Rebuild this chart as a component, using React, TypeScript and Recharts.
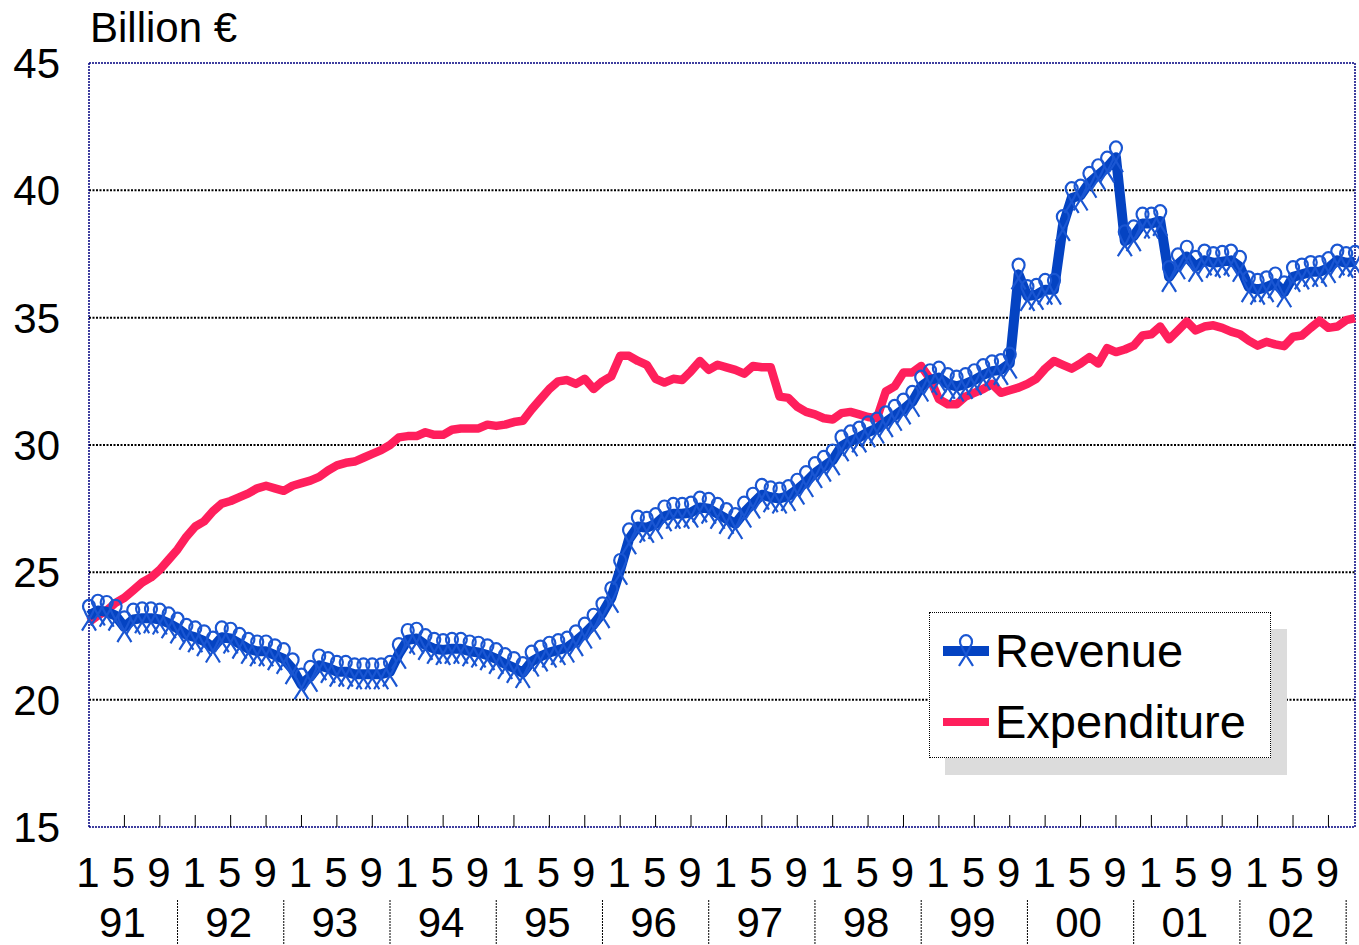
import React from "react";
import {
  LineChart,
  Line,
  XAxis,
  YAxis,
  CartesianGrid,
  ReferenceLine,
  Legend,
} from "recharts";

const YEARS = ["91", "92", "93", "94", "95", "96", "97", "98", "99", "00", "01", "02"];
const MONTH_LABELS = ["1", "5", "9"];
const Y_TICKS = [15, 20, 25, 30, 35, 40, 45];

// monthly values, Jan 1991 .. Dec 2002 (billion €)
const REVENUE = [
  23.3, 23.5, 23.45, 23.3, 22.85, 23.15, 23.2, 23.2, 23.15, 23.0, 22.8, 22.55,
  22.45, 22.3, 22.05, 22.45, 22.4, 22.2, 22.0, 21.9, 21.9, 21.75, 21.6, 21.2,
  20.6, 20.9, 21.35, 21.25, 21.1, 21.1, 21.0, 21.0, 21.0, 21.0, 21.1, 21.8,
  22.35, 22.4, 22.15, 22.0, 21.95, 22.0, 22.0, 21.9, 21.85, 21.75, 21.6, 21.4,
  21.25, 21.05, 21.5, 21.7, 21.85, 21.95, 22.05, 22.3, 22.6, 22.95, 23.4, 24.0,
  25.1, 26.3, 26.8, 26.75, 26.9, 27.2, 27.3, 27.3, 27.35, 27.55, 27.5, 27.3,
  27.1, 26.9, 27.35, 27.7, 28.05, 27.95, 27.9, 28.0, 28.25, 28.55, 28.9, 29.15,
  29.4, 29.95, 30.15, 30.3, 30.5, 30.65, 30.9, 31.15, 31.4, 31.7, 32.3, 32.55,
  32.65, 32.4, 32.3, 32.4, 32.55, 32.75, 32.9, 32.95, 33.2, 36.7, 35.85, 35.9,
  36.1, 36.1, 38.6, 39.7, 39.8, 40.3, 40.6, 40.9, 41.3, 38.0, 38.2, 38.7,
  38.7, 38.8, 36.6, 37.1, 37.4, 37.0, 37.25, 37.15, 37.2, 37.25, 37.0, 36.2,
  36.1, 36.2, 36.35, 36.0, 36.6, 36.7, 36.8, 36.8, 36.95, 37.25, 37.15, 37.2,
];

const EXPENDITURE = [
  23.05, 23.3, 23.5, 23.8, 24.0, 24.3, 24.6, 24.8, 25.1, 25.5, 25.9, 26.4,
  26.8, 27.0, 27.4, 27.7, 27.8, 27.95, 28.1, 28.3, 28.4, 28.3, 28.2, 28.4,
  28.5, 28.6, 28.75, 29.0, 29.2, 29.3, 29.35, 29.5, 29.65, 29.8, 30.0, 30.3,
  30.35, 30.35, 30.5, 30.4, 30.4, 30.6, 30.65, 30.65, 30.65, 30.8, 30.75, 30.8,
  30.9, 30.95, 31.4, 31.8, 32.2, 32.5, 32.55, 32.4, 32.6, 32.2, 32.5, 32.7,
  33.5, 33.5, 33.3, 33.15, 32.6, 32.45, 32.6, 32.55, 32.9, 33.3, 32.95, 33.15,
  33.05, 32.95, 32.8, 33.1, 33.05, 33.05, 31.9, 31.85, 31.5, 31.3, 31.2, 31.05,
  31.0, 31.25, 31.3, 31.2, 31.1, 31.05, 32.1, 32.3, 32.85, 32.85, 33.1, 32.6,
  31.8, 31.6, 31.6, 31.9, 32.05, 32.2, 32.4, 32.05, 32.15, 32.25, 32.4, 32.6,
  33.0, 33.3, 33.15, 33.0, 33.2, 33.45, 33.2, 33.8, 33.65, 33.75, 33.9, 34.3,
  34.35, 34.65, 34.15, 34.5, 34.85, 34.5, 34.65, 34.7, 34.6, 34.45, 34.35, 34.1,
  33.9, 34.05, 33.95, 33.88, 34.25, 34.3, 34.6, 34.88, 34.6, 34.65, 34.9, 34.98,
];

const FONT = "'Liberation Sans', Arial, sans-serif";
const BLUE = "#0443c2";
const MARKER = "#1a56d2";
const PINK = "#ff1f5c";
const PLOT_BOTTOM = 827;

const data = REVENUE.map((r, i) => ({
  idx: i,
  year: YEARS[Math.floor(i / 12)],
  revenue: r,
  expenditure: EXPENDITURE[i],
}));

// ribbon-like marker: loop above the point, crossed legs below
function ribbonPath(cx: number, cy: number) {
  return (
    `M${cx - 7},${cy + 15} C${cx - 3},${cy + 8} ${cx + 2},${cy + 2} ${cx + 4.5},${cy - 5} ` +
    `A6 6.5 0 1 0 ${cx - 4.5},${cy - 5} ` +
    `C${cx - 2},${cy + 2} ${cx + 3},${cy + 8} ${cx + 7},${cy + 15}`
  );
}

function RibbonDot(props: any) {
  const { cx, cy, index } = props;
  if (cx == null || cy == null) return <g key={index} />;
  return (
    <path
      key={index}
      d={ribbonPath(cx, cy)}
      fill="none"
      stroke={MARKER}
      strokeWidth={2.2}
      strokeLinejoin="round"
    />
  );
}

function YTick({ y, payload }: any) {
  return (
    <text x={60} y={y + 15} textAnchor="end" fontSize={42} fontFamily={FONT} fill="#000">
      {payload.value}
    </text>
  );
}

function XTick({ x, payload }: any) {
  const i = Number(payload.value);
  const m = i % 12;
  const parts: React.ReactNode[] = [];
  if (m % 4 === 0) {
    parts.push(
      <text key="m" x={x - 1} y={887} textAnchor="middle" fontSize={42} fontFamily={FONT} fill="#000">
        {MONTH_LABELS[m / 4]}
      </text>
    );
    if (i > 0) {
      parts.push(
        <line key="t" x1={x} x2={x} y1={PLOT_BOTTOM - 12} y2={PLOT_BOTTOM} stroke="#000" strokeWidth={1} />
      );
    }
  }
  if (m === 4) {
    parts.push(
      <text key="y" x={x - 2} y={937} textAnchor="middle" fontSize={42} fontFamily={FONT} fill="#000">
        {YEARS[Math.floor(i / 12)]}
      </text>
    );
  }
  if (m === 10 && i < 143) {
    parts.push(
      <line key="s" x1={x} x2={x} y1={900} y2={945} stroke="#000" strokeWidth={1} strokeDasharray="2 1" />
    );
  }
  return <g>{parts}</g>;
}

function LegendBox() {
  return (
    <div
      style={{
        position: "absolute",
        left: 929,
        top: 612,
        width: 340,
        height: 144,
        border: "1px dotted #000",
        background: "#fff",
        boxShadow: "16px 17px 0 #dcdcdc",
        fontFamily: FONT,
        fontSize: 47,
        color: "#000",
      }}
    >
      {[
        { name: "Revenue", color: BLUE, width: 10, marker: true, top: 15 },
        { name: "Expenditure", color: PINK, width: 8, marker: false, top: 86 },
      ].map((e) => (
        <div
          key={e.name}
          style={{
            position: "absolute",
            left: 13,
            top: e.top,
            height: 46,
            display: "flex",
            alignItems: "center",
            lineHeight: "46px",
          }}
        >
          <svg width={46} height={46} style={{ marginRight: 6 }}>
            <line x1={0} x2={46} y1={23} y2={23} stroke={e.color} strokeWidth={e.width} />
            {e.marker && (
              <path d={ribbonPath(23, 23)} fill="none" stroke={MARKER} strokeWidth={2.2} />
            )}
          </svg>
          <span>{e.name}</span>
        </div>
      ))}
    </div>
  );
}

export default function App() {
  return (
    <div style={{ position: "absolute", left: 0, top: 0, width: 1359, height: 945, background: "#fff" }}>
      <div
        style={{
          position: "absolute",
          left: 90,
          top: 4,
          fontFamily: FONT,
          fontSize: 42,
          color: "#000",
          whiteSpace: "nowrap",
        }}
      >
        Billion €
      </div>
      <LineChart
        width={1359}
        height={945}
        data={data}
        margin={{ top: 63, right: 4, left: 0, bottom: 0 }}
      >
        <CartesianGrid
          vertical={false}
          horizontalValues={[20, 25, 30, 35, 40]}
          stroke="#000"
          strokeWidth={2}
          strokeDasharray="2 1.5"
        />
        <XAxis
          dataKey="idx"
          type="category"
          scale="point"
          padding={{ left: 0, right: 0 }}
          interval={0}
          height={118}
          axisLine={false}
          tickLine={false}
          tick={<XTick />}
        />
        <YAxis
          domain={[15, 45]}
          ticks={Y_TICKS}
          width={89}
          axisLine={false}
          tickLine={false}
          tick={<YTick />}
        />
        <ReferenceLine y={45} stroke="#000080" strokeWidth={1.5} strokeDasharray="2 1" />
        <ReferenceLine y={15} stroke="#000080" strokeWidth={1.5} strokeDasharray="2 1" />
        <ReferenceLine x={0} stroke="#000080" strokeWidth={1.5} strokeDasharray="2 1" />
        <ReferenceLine x={143} stroke="#000080" strokeWidth={1.5} strokeDasharray="2 1" />
        <Line
          type="linear"
          dataKey="expenditure"
          name="Expenditure"
          stroke={PINK}
          strokeWidth={8.5}
          strokeLinejoin="round"
          dot={false}
          isAnimationActive={false}
        />
        <Line
          type="linear"
          dataKey="revenue"
          name="Revenue"
          stroke={BLUE}
          strokeWidth={10}
          strokeLinejoin="round"
          dot={RibbonDot}
          activeDot={false}
          isAnimationActive={false}
        />
        <Legend
          layout="horizontal"
          verticalAlign="middle"
          align="center"
          wrapperStyle={{ position: "absolute", left: 0, top: 0, width: 0, height: 0 }}
          content={() => <LegendBox />}
        />
      </LineChart>
    </div>
  );
}
